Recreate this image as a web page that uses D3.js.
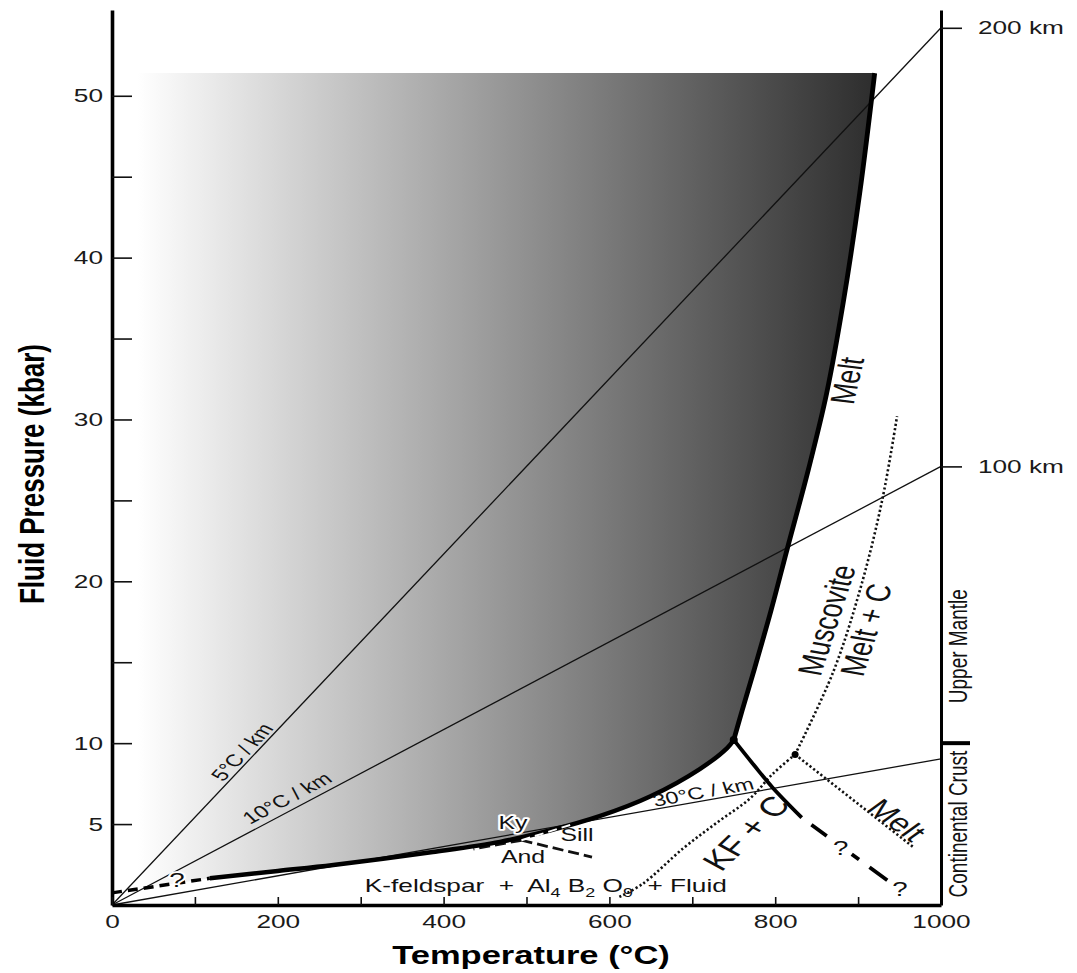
<!DOCTYPE html>
<html>
<head>
<meta charset="utf-8">
<script src="https://cdn.jsdelivr.net/npm/d3@7"></script>
<style>
  body { margin: 0; background: #fff; }
  svg { display: block; font-family: "Liberation Sans", Arial, Helvetica, sans-serif; }
  text { white-space: pre; }
</style>
</head>
<body>
<div class="canvas"></div>
<script>
// ---- data: temperature (°C), fluid pressure (kbar) ----
const solidusDashed = [[0, 0.75], [118, 1.65]];
const solidusLow = [[118, 1.65], [200, 2.1], [267, 2.47], [387, 3.27], [468, 3.9], [528, 4.6],
  [589, 5.5], [649, 6.7], [709, 8.4], [742, 9.7], [750, 10.2]];
const solidusSteep = [[750, 10.2], [760, 12.0], [775, 14.6], [795, 18.2], [815, 22.1], [840, 26.9],
  [862, 31.6], [882, 37.2], [902, 44.0], [920, 51.4]];
const kfBoundary = [[750, 10.2], [775, 8.6], [797, 7.25], [832, 5.4]];
const kfBoundaryDashed = [[832, 5.4], [936, 1.5]];
const muscoviteLow = [[612, 0.5], [640, 1.3], [689, 3.5], [730, 5.1], [770, 6.6], [797, 8.1], [824, 9.3]];
const muscoviteHigh = [[824, 9.3], [870, 14.4], [903, 19.6], [929, 25], [947, 30.2]];
const muscoviteMelt = [[824, 9.3], [966, 3.6]];
const kyAnd = [[494, 4.0], [436, 3.46]];
const andSill = [[494, 4.0], [579, 2.96]];
const kySill = [[494, 4.0], [556, 5.0]];
const invariantPoints = [[750, 10.2], [824, 9.3]];

// geotherms: name and pressure reached at 1000 °C
const geothermNames = ["5°C / km", "10°C / km", "30°C / km"];
const geothermEndP = [54.2, 27.1, 9.03];

// right-hand depth axis
const depthKm = [100, 200];
const kbarPerKm = 0.271;
const crustBaseKbar = 10;

// tick labels
const xTicks = d3.range(0, 1001, 100);
const xLabelled = [0, 200, 400, 600, 800, 1000];
const yTicks = d3.range(5, 51, 5);
const yLabelled = [5, 10, 20, 30, 40, 50];

// ---- drawing ----
const w = 1077;
const h = 973;
const sx = 1.38; // the original figure is stretched sideways, so is the text

const x = d3.scaleLinear().domain([0, 1000]).range([112, 941]);
const y = d3.scaleLinear().domain([0, 55.3]).range([905, 10]);

const svg = d3.select(".canvas").append("svg").attr("width", w).attr("height", h);

const leftT = 30;
const grad = svg.append("defs").append("linearGradient")
  .attr("id", "shade")
  .attr("gradientUnits", "userSpaceOnUse")
  .attr("x1", x(leftT)).attr("x2", x(925)).attr("y1", 0).attr("y2", 0);
grad.append("stop").attr("offset", 0).attr("stop-color", "#ffffff");
grad.append("stop").attr("offset", 1).attr("stop-color", "#2c2c2c");

const straight = d3.line().x(d => x(d[0])).y(d => y(d[1]));
const smooth = d3.line().x(d => x(d[0])).y(d => y(d[1])).curve(d3.curveCatmullRom.alpha(0.5));

// shaded field above the solidus
const topP = solidusSteep[solidusSteep.length - 1][1];
const leftP = d3.scaleLinear().domain(solidusDashed.map(d => d[0])).range(solidusDashed.map(d => d[1]))(leftT);
const fillPath = `M${x(leftT)},${y(topP)}` +
  smooth(solidusSteep.slice().reverse()).replace(/^M/, "L") +
  smooth(solidusLow.slice().reverse()).replace(/^M/, "L") +
  `L${x(leftT)},${y(leftP)}Z`;
svg.append("path").attr("d", fillPath).attr("fill", "url(#shade)");

// geotherms from the origin
geothermNames.forEach((name, i) => {
  svg.append("path")
    .attr("d", straight([[0, 0], [1000, geothermEndP[i]]]))
    .attr("fill", "none").attr("stroke", "#111").attr("stroke-width", 1.3);
});

// dotted muscovite curves
[muscoviteLow, muscoviteHigh, muscoviteMelt].forEach(pts => {
  svg.append("path")
    .attr("d", smooth(pts))
    .attr("fill", "none").attr("stroke", "#111")
    .attr("stroke-width", 2.6).attr("stroke-dasharray", "2.2,2.4");
});

// aluminosilicate boundaries
[kyAnd, andSill].forEach(pts => {
  svg.append("path")
    .attr("d", straight(pts))
    .attr("fill", "none").attr("stroke", "#111")
    .attr("stroke-width", 2.8).attr("stroke-dasharray", "11,5");
});

// solidus
svg.append("path").attr("d", smooth(solidusLow))
  .attr("fill", "none").attr("stroke", "#000").attr("stroke-width", 4.5);
svg.append("path").attr("d", smooth(solidusSteep))
  .attr("fill", "none").attr("stroke", "#000").attr("stroke-width", 4.8);
svg.append("path").attr("d", straight(solidusDashed))
  .attr("fill", "none").attr("stroke", "#000").attr("stroke-width", 3.5)
  .attr("stroke-dasharray", "10,6");

// Ky-Sill boundary runs along the solidus, shown as a light dash over it
svg.append("path").attr("d", straight(kySill))
  .attr("fill", "none").attr("stroke", "#fff")
  .attr("stroke-width", 2).attr("stroke-dasharray", "9,5");

// KF + C boundary
svg.append("path").attr("d", smooth(kfBoundary))
  .attr("fill", "none").attr("stroke", "#000").attr("stroke-width", 3.8);
svg.append("path").attr("d", straight(kfBoundaryDashed))
  .attr("fill", "none").attr("stroke", "#000").attr("stroke-width", 3.8)
  .attr("stroke-dasharray", "0,12,19,31,9,13,22,20");

svg.selectAll("circle.inv")
  .data(invariantPoints)
  .enter()
  .append("circle")
  .attr("class", "inv")
  .attr("cx", d => x(d[0]))
  .attr("cy", d => y(d[1]))
  .attr("r", (d, i) => (i === 0 ? 4 : 3.5))
  .attr("fill", "#000");

// ---- axes ----
const yAxisGroup = svg.append("g").attr("transform", `translate(${x(0)},0)`);
yAxisGroup.call(d3.axisLeft(y).tickValues(yTicks).tickSizeInner(-20).tickSizeOuter(0).tickPadding(9)
  .tickFormat(d => (yLabelled.includes(d) ? d : "")));

const xAxisGroup = svg.append("g").attr("transform", `translate(0,${y(0)})`);
xAxisGroup.call(d3.axisBottom(x).tickValues(xTicks).tickSizeInner(-8).tickSizeOuter(0).tickPadding(10)
  .tickFormat(d => (xLabelled.includes(d) ? d : "")));

const depth = d3.scaleLinear().domain([0, 55.3 / kbarPerKm]).range([905, 10]);
const rAxisGroup = svg.append("g").attr("transform", `translate(${x(1000)},0)`);
rAxisGroup.call(d3.axisRight(depth).tickValues(depthKm).tickSizeInner(21).tickSizeOuter(0).tickPadding(16)
  .tickFormat(d => d + " km"));

[yAxisGroup, xAxisGroup, rAxisGroup].forEach(g => {
  g.attr("font-family", null).attr("font-size", null);
  g.select(".domain").attr("stroke", "#000").attr("stroke-width", 3.6);
  g.selectAll(".tick line").attr("stroke", "#111").attr("stroke-width", 1.6);
  g.selectAll(".tick text").attr("fill", "#1a1a1a").style("font-size", "19px")
    .attr("transform", `scale(${sx},1)`);
});
yAxisGroup.selectAll(".tick text").attr("x", -9 / sx);
rAxisGroup.selectAll(".tick text").attr("x", 37 / sx);
rAxisGroup.select(".domain").attr("stroke-width", 3);

// crust / mantle boundary mark
svg.append("line")
  .attr("x1", x(1000)).attr("x2", x(1000) + 29)
  .attr("y1", y(crustBaseKbar)).attr("y2", y(crustBaseKbar))
  .attr("stroke", "#000").attr("stroke-width", 4);

// ---- labels ----
function screenAngle(p1, p2) {
  return Math.atan2(y(p2[1]) - y(p1[1]), x(p2[0]) - x(p1[0])) * 180 / Math.PI;
}

function label(txt, t, p, opt) {
  const o = Object.assign({ angle: 0, size: 18, weight: "normal", halo: false }, opt);
  const a = Math.abs(o.angle) === 90 ? o.angle
    : Math.atan(Math.tan(o.angle * Math.PI / 180) * sx) * 180 / Math.PI;
  const el = svg.append("text")
    .attr("transform", `translate(${x(t)},${y(p)}) scale(${sx},1) rotate(${a})`)
    .attr("text-anchor", o.anchor || "middle")
    .attr("dy", "0.35em")
    .style("font-size", o.size + "px")
    .style("font-weight", o.weight)
    .attr("fill", "#111")
    .text(txt);
  if (o.halo) {
    el.attr("stroke", "#fff").attr("stroke-width", 3.5)
      .attr("stroke-linejoin", "round").attr("paint-order", "stroke");
  }
  return el;
}

const geoLabelAt = [[156.8, 9.45], [211, 6.61], [713, 6.98]];
geothermNames.forEach((name, i) => {
  const ang = screenAngle([0, 0], [1000, geothermEndP[i]]);
  label(name, geoLabelAt[i][0], geoLabelAt[i][1], { angle: ang, size: 17 });
});

label("Melt", 886.6, 32.4, { angle: -77, size: 25 });
label("Muscovite", 862, 17.6, { angle: -72, size: 25 });
label("Melt + C", 909.5, 17.0, { angle: -72, size: 25 });
label("KF + C", 764.8, 4.45, { angle: -44, size: 27 });
label("Melt", 947, 5.25, { angle: 36, size: 25 });

label("Ky", 483.7, 5.07, { size: 18, halo: true });
label("Sill", 561, 4.32, { size: 18 });
label("And", 495.8, 2.97, { size: 18 });

label("?", 78.4, 1.54, { size: 20, halo: true });
label("?", 879, 3.52, { size: 20 });
label("?", 950.5, 0.99, { size: 20 });

// reaction assemblage below the solidus
const kf = svg.append("text")
  .attr("transform", `translate(${x(305)},${y(0.8)}) scale(${sx},1)`)
  .style("font-size", "19px").attr("fill", "#111");
kf.append("tspan").text("K-feldspar  +  Al");
kf.append("tspan").attr("dy", 5).style("font-size", "13px").text("4");
kf.append("tspan").attr("dy", -5).text(" B");
kf.append("tspan").attr("dy", 5).style("font-size", "13px").text("2");
kf.append("tspan").attr("dy", -5).text(" O");
kf.append("tspan").attr("dy", 5).style("font-size", "13px").text("9");
kf.append("tspan").attr("dy", -5).text("  + Fluid");

// right-hand column
svg.append("text")
  .attr("transform", `translate(958,${(y(0) + y(crustBaseKbar)) / 2}) scale(${sx},1) rotate(-90)`)
  .attr("text-anchor", "middle").attr("dy", "0.35em")
  .style("font-size", "19px").attr("fill", "#111")
  .text("Continental Crust");
svg.append("text")
  .attr("transform", `translate(958,${y(crustBaseKbar) - 40}) scale(${sx},1) rotate(-90)`)
  .attr("text-anchor", "start").attr("dy", "0.35em")
  .style("font-size", "19px").attr("fill", "#111")
  .text("Upper Mantle");

// axis titles
svg.append("text")
  .attr("transform", `translate(531,${y(0) + 50}) scale(${sx},1)`)
  .attr("text-anchor", "middle").attr("dy", "0.35em")
  .style("font-size", "25px").style("font-weight", "bold").attr("fill", "#000")
  .text("Temperature (°C)");
svg.append("text")
  .attr("transform", `translate(31,474) scale(${sx},1) rotate(-90)`)
  .attr("text-anchor", "middle").attr("dy", "0.35em")
  .style("font-size", "26px").style("font-weight", "bold").attr("fill", "#000")
  .text("Fluid Pressure (kbar)");
</script>
</body>
</html>
